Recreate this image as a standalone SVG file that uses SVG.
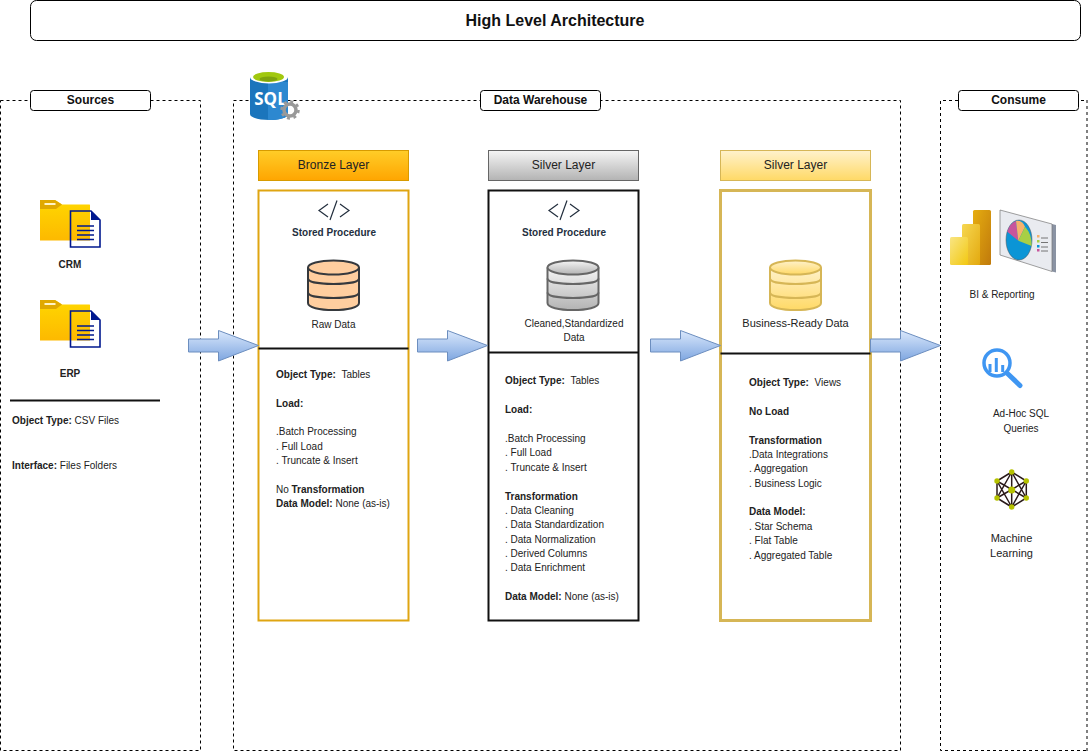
<svg xmlns="http://www.w3.org/2000/svg" width="1088" height="751" viewBox="0 0 1088 751">
<style>
text{font-family:"Liberation Sans",Arial,sans-serif;fill:#111;}
.t{font-size:10px;fill:#222;}
.c{text-anchor:middle;}
.b{font-weight:bold;}
.h{font-size:12px;text-anchor:middle;fill:#222;}
.lab{font-size:12px;font-weight:bold;text-anchor:middle;}
.zone{fill:none;stroke:#000;stroke-width:1;stroke-dasharray:3 3;}
.pill{fill:#fff;stroke:#000;stroke-width:1;}
.arrow{fill:url(#gArrow);stroke:#6c8ebf;stroke-width:1;}
.code{fill:none;stroke:#232f3e;stroke-width:1.2;}
.sp{font-size:10px;font-weight:bold;text-anchor:middle;fill:#232f3e;}
</style>
<defs>
<linearGradient id="gArrow" x1="0" y1="0" x2="0" y2="1"><stop offset="0" stop-color="#dae8fc"/><stop offset="1" stop-color="#7ea6e0"/></linearGradient>
<linearGradient id="gBronze" x1="0" y1="0" x2="0" y2="1"><stop offset="0" stop-color="#ffcd28"/><stop offset="1" stop-color="#ffa500"/></linearGradient>
<linearGradient id="gSilver" x1="0" y1="0" x2="0" y2="1"><stop offset="0" stop-color="#f5f5f5"/><stop offset="1" stop-color="#b3b3b3"/></linearGradient>
<linearGradient id="gGold" x1="0" y1="0" x2="0" y2="1"><stop offset="0" stop-color="#fff2cc"/><stop offset="1" stop-color="#ffd966"/></linearGradient>
<linearGradient id="gFolder" x1="0" y1="0" x2="0" y2="1"><stop offset="0" stop-color="#ffd700"/><stop offset="1" stop-color="#fdb900"/></linearGradient>
<linearGradient id="gPbi1" x1="0" y1="0" x2="1" y2="1"><stop offset="0" stop-color="#e6ad10"/><stop offset="1" stop-color="#c07a0c"/></linearGradient>
<linearGradient id="gPbi2" x1="0" y1="0" x2="1" y2="1"><stop offset="0" stop-color="#f6d751"/><stop offset="1" stop-color="#e3a90f"/></linearGradient>
<linearGradient id="gPbi3" x1="0" y1="0" x2="1" y2="1"><stop offset="0" stop-color="#f9e583"/><stop offset="1" stop-color="#f2c811"/></linearGradient>
<g id="folder">
<path d="M0 0H15L22 4.500H49.500Q50 4.500 50 5V40.500H0Z" fill="url(#gFolder)"/>
<path d="M0 0H15L22 4.500L16 9H0Z" fill="#e0a800"/>
<rect x="4.500" y="3" width="11" height="2" fill="#fff3c4"/>
<path d="M30.500 11H51L60 20V47H30.500Z" fill="none" stroke="#00188f" stroke-width="1.600"/>
<path d="M51 11L60 20H51Z" fill="#00188f"/>
<path d="M37 26H54M37 30.500H54M37 35H54M37 39.500H54" stroke="#00188f" stroke-width="1.400"/>
</g>
<g id="cyl">
<path d="M0 7.500V43C0 47.500 11.500 50 25.500 50S51 47.500 51 43V7.500" stroke-width="2"/>
<ellipse cx="25.500" cy="7.500" rx="25.500" ry="7" stroke-width="2"/>
<path d="M0 18.500C0 22 11.500 24 25.500 24S51 22 51 18.500M0 32.500C0 36 11.500 38 25.500 38S51 36 51 32.500" fill="none" stroke-width="2"/>
</g>
<g id="codeIcon" class="code">
<path d="M10 4L1 10.500L10 17M19 0.500L12 20M22 4L31 10.500L22 17"/>
</g>
</defs>

<g id="title"><rect x="30.500" y="0.500" width="1050" height="40" rx="6" class="pill"/><text x="555" y="25.500" class="c b" style="font-size:16px">High Level Architecture</text></g>

<g id="sources">
<rect x="0.500" y="100.500" width="200" height="650" class="zone"/>
<rect x="30.500" y="90.500" width="120" height="20" rx="3" class="pill"/>
<text x="90.500" y="104" class="lab">Sources</text>
<use href="#folder" x="40" y="200"/>
<text x="70" y="268" class="t c b">CRM</text>
<use href="#folder" x="40" y="300"/>
<text x="70" y="377" class="t c b">ERP</text>
<path d="M10 400.500H160" stroke="#111" stroke-width="2"/>
<text x="12" y="424" class="t"><tspan class="b">Object Type:</tspan> CSV Files</text>
<text x="12" y="469" class="t"><tspan class="b">Interface:</tspan> Files Folders</text>
</g>

<g id="warehouse">
<rect x="233.500" y="100.500" width="667" height="650" class="zone"/>
<rect x="480.500" y="90.500" width="120" height="20" rx="3" class="pill"/>
<text x="540.500" y="104" class="lab">Data Warehouse</text>
</g>
<g id="sql-icon">
<path d="M250 77V114C250 118 260 120 269 120S288 118 288 114V77Z" fill="#1b75bc"/>
<path d="M268 82H288V114C288 118 278 120 268 120Z" fill="#2d88d0"/>
<ellipse cx="269" cy="77" rx="19" ry="6.500" fill="#fff"/>
<ellipse cx="268.500" cy="77" rx="15.500" ry="5" fill="#a1c80f"/>
<ellipse cx="268.500" cy="79" rx="9" ry="2.500" fill="#7fa30f"/>
<text x="270.500" y="105" style="font-size:17px;font-weight:bold;fill:#fff;text-anchor:middle;font-family:'Open Sans',sans-serif">SQL</text>
<circle cx="290" cy="110" r="6" fill="none" stroke="#999" stroke-width="3.500"/>
<circle cx="290" cy="110" r="8.500" fill="none" stroke="#999" stroke-width="2.500" stroke-dasharray="3 3.670"/>
</g>

<g id="bronze-layer">
<rect x="258.500" y="150.500" width="150" height="30" fill="url(#gBronze)" stroke="#d79b00"/>
<text x="333.500" y="169" class="h">Bronze Layer</text>
<rect x="258.500" y="190.500" width="150" height="430" fill="#fff" stroke="#dfa512" stroke-width="2"/>
<path d="M258.500 348.500H408.500" stroke="#111" stroke-width="2"/>
<use href="#codeIcon" x="318" y="200"/>
<text x="334" y="236" class="sp">Stored Procedure</text>
<use href="#cyl" x="308" y="260" fill="#ffce9f" stroke="#36393d"/>
<text x="333.500" y="328" class="t c">Raw Data</text>
<text x="276" y="378" class="t"><tspan class="b">Object Type:</tspan> <tspan dx="3">Tables</tspan></text>
<text x="276" y="407" class="t b">Load:</text>
<text x="276" y="435" class="t">.Batch Processing</text>
<text x="276" y="450" class="t">. Full Load</text>
<text x="276" y="464" class="t">. Truncate &amp; Insert</text>
<text x="276" y="493" class="t">No <tspan class="b">Transformation</tspan></text>
<text x="276" y="507" class="t"><tspan class="b">Data Model:</tspan> None (as-is)</text>
</g>

<g id="silver-layer">
<rect x="488.500" y="150.500" width="150" height="30" fill="url(#gSilver)" stroke="#666"/>
<text x="563.500" y="169" class="h">Silver Layer</text>
<rect x="488.500" y="190.500" width="150" height="430" fill="#fff" stroke="#111" stroke-width="2"/>
<path d="M488.500 352.500H638.500" stroke="#111" stroke-width="2"/>
<use href="#codeIcon" x="548" y="200"/>
<text x="564" y="236" class="sp">Stored Procedure</text>
<use href="#cyl" x="547.500" y="260" fill="url(#gSilver)" stroke="#666"/>
<text x="574" y="327" class="t c">Cleaned,Standardized</text>
<text x="574" y="341" class="t c">Data</text>
<text x="505" y="384" class="t"><tspan class="b">Object Type:</tspan> <tspan dx="3">Tables</tspan></text>
<text x="505" y="413" class="t b">Load:</text>
<text x="505" y="442" class="t">.Batch Processing</text>
<text x="505" y="456" class="t">. Full Load</text>
<text x="505" y="471" class="t">. Truncate &amp; Insert</text>
<text x="505" y="500" class="t b">Transformation</text>
<text x="505" y="514" class="t">. Data Cleaning</text>
<text x="505" y="528" class="t">. Data Standardization</text>
<text x="505" y="543" class="t">. Data Normalization</text>
<text x="505" y="557" class="t">. Derived Columns</text>
<text x="505" y="571" class="t">. Data Enrichment</text>
<text x="505" y="600" class="t"><tspan class="b">Data Model:</tspan> None (as-is)</text>
</g>

<g id="gold-layer">
<rect x="720.500" y="150.500" width="150" height="30" fill="url(#gGold)" stroke="#d6b656"/>
<text x="795.500" y="169" class="h">Silver Layer</text>
<rect x="720.500" y="190.500" width="150" height="430" fill="#fff" stroke="#d6b656" stroke-width="3"/>
<path d="M720.500 353.500H870.500" stroke="#111" stroke-width="2"/>
<use href="#cyl" x="770" y="260" fill="url(#gGold)" stroke="#d6b656"/>
<text x="795.500" y="327" class="c" style="font-size:11px;fill:#222">Business-Ready Data</text>
<text x="749" y="386" class="t"><tspan class="b">Object Type:</tspan> <tspan dx="3">Views</tspan></text>
<text x="749" y="415" class="t b">No Load</text>
<text x="749" y="444" class="t b">Transformation</text>
<text x="749" y="458" class="t">.Data Integrations</text>
<text x="749" y="472" class="t">. Aggregation</text>
<text x="749" y="487" class="t">. Business Logic</text>
<text x="749" y="515" class="t b">Data Model:</text>
<text x="749" y="530" class="t">. Star Schema</text>
<text x="749" y="544" class="t">. Flat Table</text>
<text x="749" y="559" class="t">. Aggregated Table</text>
</g>

<g id="consume">
<path d="M1086 750.500H940.500V100.500H1087" class="zone"/>
<path d="M1087 100V751" fill="none" stroke="#808080" stroke-width="2" stroke-dasharray="3 3"/>
<rect x="958.500" y="90.500" width="120" height="20" rx="3" class="pill"/>
<text x="1018.500" y="104" class="lab">Consume</text>
</g>
<g id="bi-reporting">
<rect x="973" y="210" width="18" height="55" rx="1.500" fill="url(#gPbi1)"/>
<rect x="962" y="224" width="18" height="41" rx="1.500" fill="url(#gPbi2)"/>
<rect x="950" y="237" width="18" height="28" rx="1.500" fill="url(#gPbi3)"/>
<path d="M1052 224L1056 225V272.500L1052 271.500Z" fill="#8a93a3"/>
<path d="M1000 210L1052 224V271.500L1000 255Z" fill="#e9ebf0" stroke="#777" stroke-width=".7"/>
<ellipse cx="1019" cy="240" rx="13" ry="20" fill="#0b95d6" stroke="#555" stroke-width=".5"/>
<path d="M1018.300 240.700L1007.300 231.700Q1010 223 1016 221Z" fill="#c8559c"/>
<path d="M1018.300 240.700L1016 221Q1022 220 1025 226.700Z" fill="#f6b26b"/>
<path d="M1018.300 240.700L1025 226.700Q1032 234 1031.700 246Z" fill="#a8cf45"/>
<rect x="1037" y="235" width="2.500" height="2.500" fill="#f6b26b"/><rect x="1037" y="240" width="2.500" height="2.500" fill="#a8cf45"/><rect x="1037" y="245" width="2.500" height="2.500" fill="#0b95d6"/><rect x="1037" y="249" width="2.500" height="2.500" fill="#c8559c"/>
<path d="M1041 238H1048M1041 242.500H1048M1041 247H1048M1041 251H1048" stroke="#555" stroke-width=".8"/>
<text x="1002" y="298" class="t c">BI &amp; Reporting</text>
</g>
<g id="adhoc">
<circle cx="997" cy="363" r="13" fill="none" stroke="#3f96f2" stroke-width="3.500"/>
<path d="M1008 374L1020 385.500" stroke="#3f96f2" stroke-width="5" stroke-linecap="round"/>
<path d="M990 364V372M996.300 358V372M1002.700 365V372" stroke="#3f96f2" stroke-width="3"/>
<text x="1021" y="417" class="t c">Ad-Hoc SQL</text>
<text x="1021" y="432" class="t c">Queries</text>
</g>
<g id="ml">
<path d="M1011.700 472L1026.300 481V498L1011.700 507L997 498V481ZM1011.700 472V507M997 481L1026.300 498M1026.300 481L997 498M997 481L1011.700 507M1026.300 481L1011.700 507M997 498L1011.700 472M1026.300 498L1011.700 472" fill="none" stroke="#2a1a1a" stroke-width="1.500"/>
<g fill="#b5c200"><circle cx="1011.700" cy="472" r="2.700"/><circle cx="1026.300" cy="481" r="2.700"/><circle cx="1026.300" cy="498" r="2.700"/><circle cx="1011.700" cy="507" r="2.700"/><circle cx="997" cy="498" r="2.700"/><circle cx="997" cy="481" r="2.700"/><circle cx="1011.700" cy="490" r="3.500"/></g>
<text x="1011.500" y="542" class="c" style="font-size:11px;fill:#222">Machine</text>
<text x="1011.500" y="557" class="c" style="font-size:11px;fill:#222">Learning</text>
</g>

<g id="connectors">
<path class="arrow" d="M188.500 339H218.500V330.500L258.500 345.500L218.500 361V352H188.500Z"/>
<path class="arrow" d="M417.500 339H447.500V330.500L487.500 345.500L447.500 361V352H417.500Z"/>
<path class="arrow" d="M650.500 339H680.500V330.500L720.500 345.500L680.500 361V352H650.500Z"/>
<path class="arrow" d="M870.500 339H900.500V330.500L940.500 345.500L900.500 361V352H870.500Z"/>
</g>
</svg>
